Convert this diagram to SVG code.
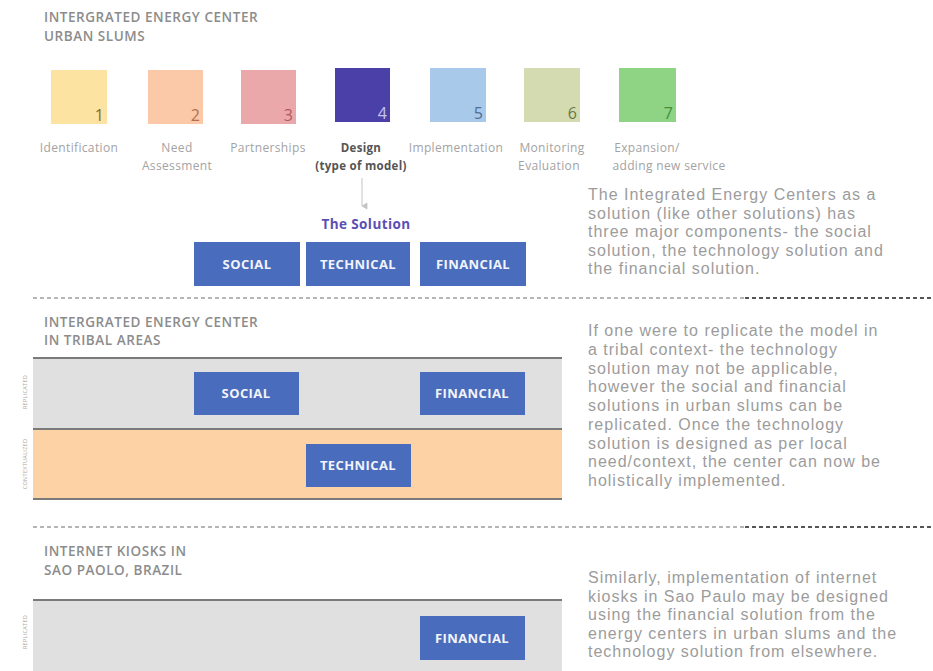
<svg xmlns="http://www.w3.org/2000/svg" width="933" height="671" viewBox="0 0 933 671">
<defs>
<style>
.title{font-family:"Open Sans",sans-serif;font-size:13.5px;font-weight:600;fill:#8c8c8c;letter-spacing:0.55px}
.step{font-family:"Open Sans",sans-serif;font-size:12px;fill:#a3a3a3;text-anchor:middle;letter-spacing:0.35px}
.stepb{font-family:"Open Sans",sans-serif;font-size:11.5px;font-weight:700;fill:#555;text-anchor:middle;letter-spacing:0.3px}
.num{font-family:"Open Sans",sans-serif;font-size:16px;text-anchor:end}
.box{fill:#4a6cbc}
.blabel{font-family:"Open Sans",sans-serif;font-size:13px;font-weight:700;fill:#f2f4fb;text-anchor:middle;letter-spacing:0.4px}
.para{font-family:"Liberation Sans",Arial,sans-serif;font-size:16px;fill:#9c9c9c;letter-spacing:1px}
.rot{font-family:"Open Sans",sans-serif;font-size:5.5px;fill:#a8a8a8;text-anchor:middle;letter-spacing:0.3px}
.dl{stroke:#b5b5b5;stroke-width:2;stroke-dasharray:4 3}
.dd{stroke:#555;stroke-width:2;stroke-dasharray:4 3}
.bandline{stroke:#7a7a7a;stroke-width:2}
</style>
<marker id="ah" markerWidth="8" markerHeight="8" refX="4" refY="7" orient="auto" markerUnits="userSpaceOnUse">
<path d="M1,2 L4,7 L7,2 Z" fill="#c4c4c4" stroke="#c4c4c4" stroke-width="0.8"/>
</marker>
</defs>
<rect width="933" height="671" fill="#ffffff"/>

<!-- Section 1 -->
<g id="title1">
<text class="title" x="44" y="22">INTERGRATED ENERGY CENTER</text>
<text class="title" x="44" y="41">URBAN SLUMS</text>
</g>

<g id="step1">
<rect x="51" y="70" width="56" height="54" fill="#fce3a2"/>
<text class="num" x="104" y="121" fill="#7d6e2e">1</text>
<text class="step" x="79" y="152">Identification</text>
</g>
<g id="step2">
<rect x="148" y="70" width="55" height="54" fill="#fbc9a7"/>
<text class="num" x="200" y="121" fill="#b0704e">2</text>
<text class="step" x="177" y="152">Need</text>
<text class="step" x="177" y="170">Assessment</text>
</g>
<g id="step3">
<rect x="241" y="70" width="55" height="54" fill="#eba8ab"/>
<text class="num" x="293" y="121" fill="#b15a64">3</text>
<text class="step" x="268" y="152">Partnerships</text>
</g>
<g id="step4">
<rect x="335" y="68" width="55" height="54" fill="#4b40a8"/>
<text class="num" x="387" y="119" fill="#c5c4ec">4</text>
<text class="stepb" x="361" y="152">Design</text>
<text class="stepb" x="361" y="170">(type of model)</text>
</g>
<g id="step5">
<rect x="430" y="68" width="56" height="54" fill="#a9c9ea"/>
<text class="num" x="483" y="119" fill="#4f6d96">5</text>
<text class="step" x="456" y="152">Implementation</text>
</g>
<g id="step6">
<rect x="524" y="68" width="56" height="54" fill="#d4dbb1"/>
<text class="num" x="577" y="119" fill="#6a7848">6</text>
<text class="step" x="552" y="152">Monitoring</text>
<text class="step" x="549" y="170">Evaluation</text>
</g>
<g id="step7">
<rect x="619" y="68" width="57" height="54" fill="#8fd384"/>
<text class="num" x="673" y="119" fill="#3f8f3f">7</text>
<text class="step" x="647" y="152">Expansion/</text>
<text class="step" x="669" y="170">adding new service</text>
</g>

<g id="connectors">
<line x1="362" y1="178" x2="362" y2="206" stroke="#c4c4c4" stroke-width="1" marker-end="url(#ah)"/>
</g>

<g id="solution">
<text x="366" y="229" font-family="Open Sans, sans-serif" font-size="13.5" font-weight="700" fill="#5b4fb5" text-anchor="middle" letter-spacing="0.4">The Solution</text>
</g>
<g id="social1">
<rect class="box" x="194" y="242" width="106" height="44"/>
<text class="blabel" x="247" y="269">SOCIAL</text>
</g>
<g id="technical1">
<rect class="box" x="306" y="242" width="104" height="44"/>
<text class="blabel" x="358" y="269">TECHNICAL</text>
</g>
<g id="financial1">
<rect class="box" x="420" y="242" width="106" height="44"/>
<text class="blabel" x="473" y="269">FINANCIAL</text>
</g>

<g id="para1">
<text class="para" x="588" y="200">The Integrated Energy Centers as a</text>
<text class="para" x="588" y="218.5">solution (like other solutions) has</text>
<text class="para" x="588" y="237">three major components- the social</text>
<text class="para" x="588" y="255.5">solution, the technology solution and</text>
<text class="para" x="588" y="274">the financial solution.</text>
</g>

<g id="divider1">
<line class="dl" x1="33" y1="298" x2="745" y2="298"/>
<line class="dd" x1="745" y1="298" x2="933" y2="298"/>
</g>

<!-- Section 2 -->
<g id="title2">
<text class="title" x="44" y="327">INTERGRATED ENERGY CENTER</text>
<text class="title" x="44" y="345">IN TRIBAL AREAS</text>
</g>
<g id="bands2">
<rect x="33" y="358" width="529" height="71" fill="#e0e0e0"/>
<rect x="33" y="429" width="529" height="70" fill="#fdd3a6"/>
<line class="bandline" x1="33" y1="358" x2="562" y2="358"/>
<line class="bandline" x1="33" y1="429" x2="562" y2="429"/>
<line class="bandline" x1="33" y1="499" x2="562" y2="499"/>
<text class="rot" transform="translate(27,392) rotate(-90)">REPLICATED</text>
<text class="rot" transform="translate(27,464) rotate(-90)">CONTEXTUALIZED</text>
</g>
<g id="social2">
<rect class="box" x="194" y="372" width="105" height="43"/>
<text class="blabel" x="246" y="398">SOCIAL</text>
</g>
<g id="financial2">
<rect class="box" x="420" y="372" width="105" height="43"/>
<text class="blabel" x="472" y="398">FINANCIAL</text>
</g>
<g id="technical2">
<rect class="box" x="306" y="444" width="105" height="43"/>
<text class="blabel" x="358" y="470">TECHNICAL</text>
</g>

<g id="para2">
<text class="para" x="588" y="336">If one were to replicate the model in</text>
<text class="para" x="588" y="354.75">a tribal context- the technology</text>
<text class="para" x="588" y="373.5">solution may not be applicable,</text>
<text class="para" x="588" y="392.25">however the social and financial</text>
<text class="para" x="588" y="411">solutions in urban slums can be</text>
<text class="para" x="588" y="429.75">replicated. Once the technology</text>
<text class="para" x="588" y="448.5">solution is designed as per local</text>
<text class="para" x="588" y="467.25">need/context, the center can now be</text>
<text class="para" x="588" y="486">holistically implemented.</text>
</g>

<g id="divider2">
<line class="dl" x1="33" y1="527" x2="745" y2="527"/>
<line class="dd" x1="745" y1="527" x2="933" y2="527"/>
</g>

<!-- Section 3 -->
<g id="title3">
<text class="title" x="44" y="556">INTERNET KIOSKS IN</text>
<text class="title" x="44" y="575">SAO PAOLO, BRAZIL</text>
</g>
<g id="band3">
<rect x="33" y="600" width="529" height="71" fill="#e0e0e0"/>
<line class="bandline" x1="33" y1="600" x2="562" y2="600"/>
<text class="rot" transform="translate(27,632) rotate(-90)">REPLICATED</text>
</g>
<g id="financial3">
<rect class="box" x="420" y="616" width="105" height="44"/>
<text class="blabel" x="472" y="643">FINANCIAL</text>
</g>

<g id="para3">
<text class="para" x="588" y="583">Similarly, implementation of internet</text>
<text class="para" x="588" y="601.5">kiosks in Sao Paulo may be designed</text>
<text class="para" x="588" y="620">using the financial solution from the</text>
<text class="para" x="588" y="638.5">energy centers in urban slums and the</text>
<text class="para" x="588" y="657">technology solution from elsewhere.</text>
</g>
</svg>
